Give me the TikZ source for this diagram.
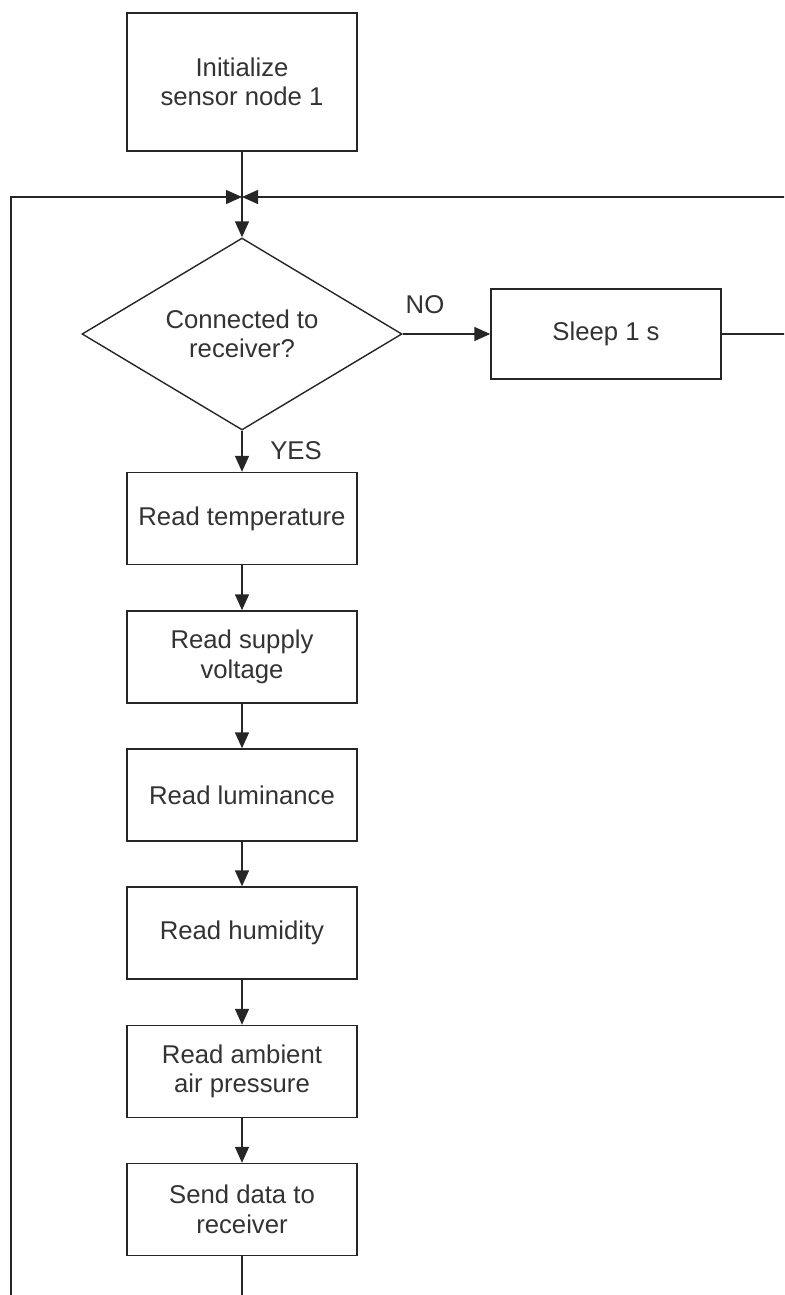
\documentclass[tikz,border=0pt]{standalone}
\usepackage{fontspec}
\setmainfont{Liberation Sans}
\usetikzlibrary{shapes.geometric,arrows.meta}
\begin{document}
\begin{tikzpicture}[x=1pt,y=-1pt]
\tikzset{
  line/.style={draw=black!85, line width=1.4pt},
  txt/.style={font=\fontsize{25.7}{29.5}\selectfont, text=black!80},
  proc/.style={line, txt, rectangle, minimum width=230pt, minimum height=92pt,
    inner sep=0pt, align=center},
  decide/.style={line, txt, diamond, shape aspect=1.667, minimum width=320pt,
    minimum height=192pt, inner sep=0pt, align=center},
  flow/.style={line, -{Triangle[length=16pt,width=14pt]}},
  lbl/.style={txt}
}
\useasboundingbox (0,0) rectangle (784,1295);
\clip (0,0) rectangle (784,1295);
\fill[white] (0,0) rectangle (784,1295);

% process chain
\node[proc, minimum height=138pt] (init) at (242,82) {Initialize\\sensor node 1};
\coordinate (merge) at (242,197);
\node[decide] (conn) at (242,334) {Connected to\\receiver?};
\node[proc, minimum height=90pt] (sleep) at (606,334) {Sleep 1 s};
\node[proc] (temp) at (242,518.5) {Read temperature};
\node[proc] (volt) at (242,657) {Read supply\\voltage};
\node[proc] (lum)  at (242,795) {Read luminance};
\node[proc] (hum)  at (242,933) {Read humidity};
\node[proc] (pres) at (242,1071.5) {Read ambient\\air pressure};
\node[proc] (send) at (242,1209.5) {Send data to\\receiver};

% branch labels
\node[lbl] (nolab)  at (425,305) {NO};
\node[lbl] (yeslab) at (296,451) {YES};

% return paths
\coordinate (rb) at (800,334);
\coordinate (rt) at (800,197);
\coordinate (sb) at (242,1320);
\coordinate (lb) at (11,1320);

% connectors
\draw[line] (init.south) -- (merge);
\draw[flow] (merge) -- (conn.north);
\draw[flow] (conn.east) -- (sleep.west);
\draw[flow] (sleep.east) -- (rb) -- (rt) -- (merge);
\draw[flow] (conn.south) -- (temp.north);
\draw[flow] (temp.south) -- (volt.north);
\draw[flow] (volt.south) -- (lum.north);
\draw[flow] (lum.south) -- (hum.north);
\draw[flow] (hum.south) -- (pres.north);
\draw[flow] (pres.south) -- (send.north);
\draw[flow] (send.south) -- (sb) -- (lb) |- (merge);
\end{tikzpicture}
\end{document}
